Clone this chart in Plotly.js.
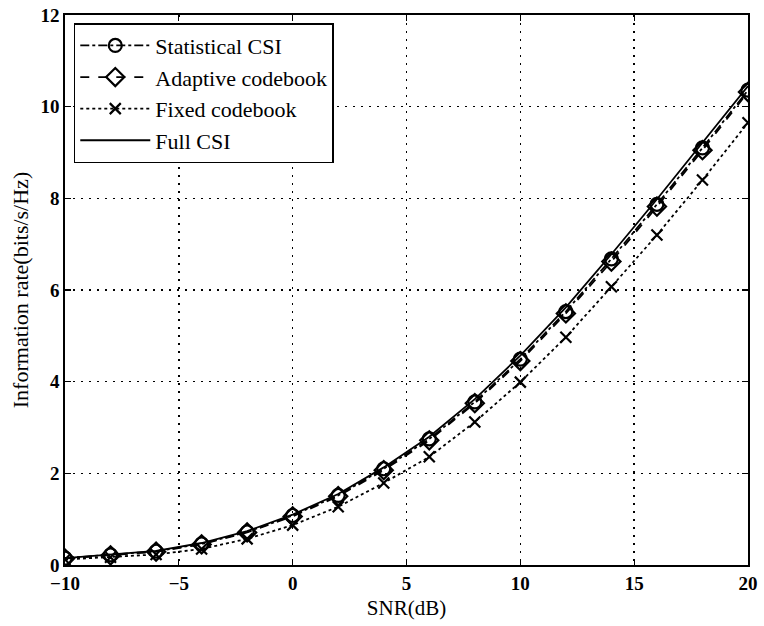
<!DOCTYPE html>
<html>
<head>
<meta charset="utf-8">
<script src="https://cdn.plot.ly/plotly-3.0.1.min.js"></script>
<style>html,body{margin:0;padding:0;background:#fff;}#chart{width:764px;height:626px;}</style>
</head>
<body>
<div id="chart"></div>
<script>
const snr = [-10, -8, -6, -4, -2, 0, 2, 4, 6, 8, 10, 12, 14, 16, 18, 20];
const statisticalCSI = [0.15, 0.22, 0.30, 0.46, 0.72, 1.08, 1.52, 2.10, 2.75, 3.56, 4.49, 5.53, 6.68, 7.87, 9.10, 10.36];
const adaptiveCodebook = [0.14, 0.21, 0.29, 0.45, 0.71, 1.06, 1.50, 2.07, 2.72, 3.53, 4.45, 5.49, 6.62, 7.82, 9.05, 10.32];
const fixedCodebook = [0.12, 0.17, 0.23, 0.35, 0.57, 0.87, 1.27, 1.79, 2.36, 3.12, 3.99, 4.97, 6.07, 7.20, 8.40, 9.65];
const fullCSI = [0.15, 0.23, 0.31, 0.48, 0.74, 1.10, 1.55, 2.13, 2.80, 3.62, 4.57, 5.62, 6.78, 7.98, 9.22, 10.45];
const seriesNames = ["Statistical CSI", "Adaptive codebook", "Fixed codebook", "Full CSI"];
const xTicks = [-10, -5, 0, 5, 10, 15, 20];
const yTicks = [0, 2, 4, 6, 8, 10, 12];

const serif = "Liberation Serif, Times New Roman, serif";
const traces = [
  {x: snr, y: statisticalCSI, name: seriesNames[0], mode: "lines+markers",
   line: {color: "black", width: 1.8, dash: "dashdot"},
   marker: {symbol: "circle-open", size: 13, color: "black", line: {width: 2.2, color: "black"}}},
  {x: snr, y: adaptiveCodebook, name: seriesNames[1], mode: "lines+markers",
   line: {color: "black", width: 1.8, dash: "dash"},
   marker: {symbol: "diamond-open", size: 14, color: "black", line: {width: 2.2, color: "black"}}},
  {x: snr, y: fixedCodebook, name: seriesNames[2], mode: "lines+markers",
   line: {color: "black", width: 1.8, dash: "dot"},
   marker: {symbol: "x-thin-open", size: 11, color: "black", line: {width: 2.2, color: "black"}}},
  {x: snr, y: fullCSI, name: seriesNames[3], mode: "lines",
   line: {color: "black", width: 1.8}}
];

const axisCommon = {
  showline: true, linecolor: "black", linewidth: 1.8, mirror: "ticks",
  ticks: "inside", ticklen: 6, tickwidth: 1.3, tickcolor: "black",
  showgrid: true, gridcolor: "black", gridwidth: 1.4, griddash: "2px,6px",
  zeroline: false,
  tickfont: {family: serif, size: 19, color: "black", weight: "bold"}
};

const layout = {
  width: 764, height: 626,
  margin: {l: 65, r: 16, t: 15, b: 61},
  paper_bgcolor: "white", plot_bgcolor: "white",
  showlegend: true,
  xaxis: Object.assign({}, axisCommon, {
    range: [-10, 20], tickvals: xTicks, ticktext: xTicks.map(v => v < 0 ? "\u2212" + Math.abs(v) : String(v)),
    title: {text: "SNR(dB)", font: {family: serif, size: 21, color: "black"}, standoff: 8}
  }),
  yaxis: Object.assign({}, axisCommon, {
    range: [0, 12], tickvals: yTicks,
    title: {text: "Information rate(bits/s/Hz)", font: {family: serif, size: 22, color: "black"}, standoff: 6}
  }),
  legend: {
    x: 0.013, y: 0.985, xanchor: "left", yanchor: "top",
    bgcolor: "white", bordercolor: "black", borderwidth: 1.4,
    font: {family: serif, size: 22, color: "black"},
    itemwidth: 70, tracegroupgap: 0
  }
};

Plotly.newPlot("chart", traces, layout, {displayModeBar: false, staticPlot: true});
</script>
</body>
</html>
